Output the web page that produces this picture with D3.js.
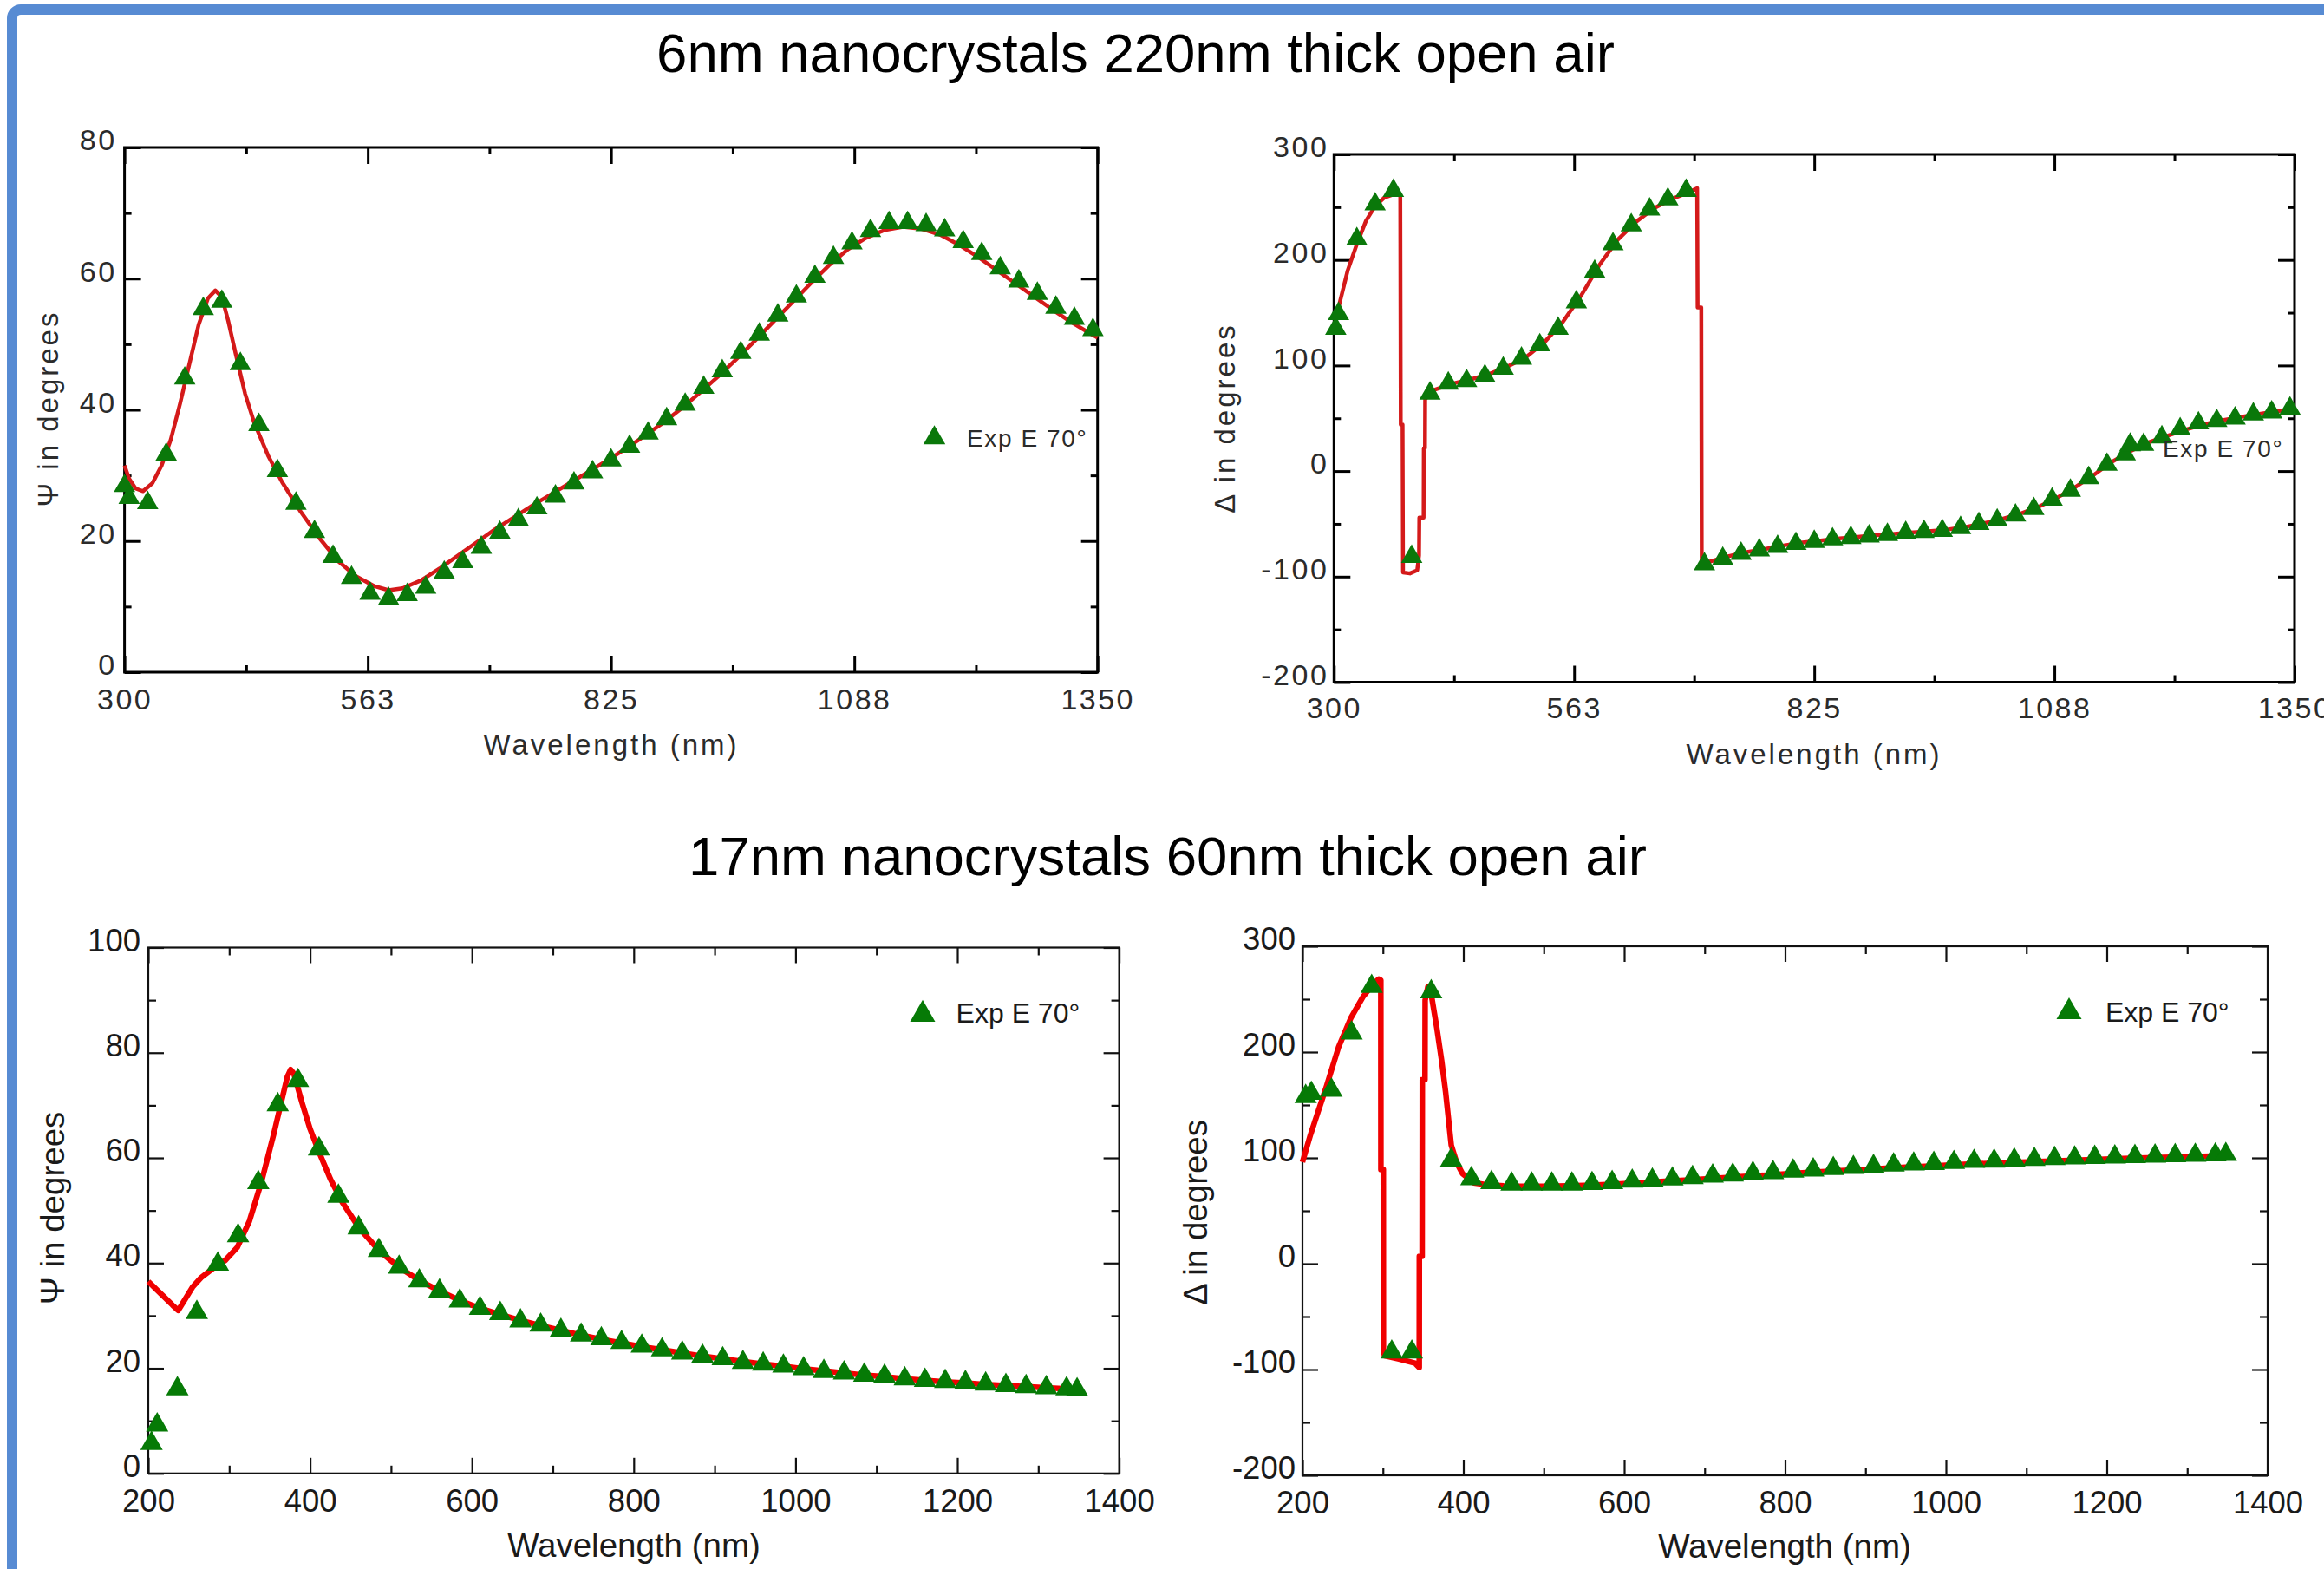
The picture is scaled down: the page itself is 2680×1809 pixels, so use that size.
<!DOCTYPE html>
<html>
<head>
<meta charset="utf-8" />
<title>Nanocrystal ellipsometry fits</title>
<style type="text/css">
    body {
        margin: 0;
        background-color: #fff;
    }
    svg {
        display: block;
        background-color: #fff;
        font-family: "Liberation Sans", Arial, sans-serif;
    }
    .title {
        font-size: 63.5px;
        fill: #000;
    }
</style>
<script type="text/javascript" src="https://cdnjs.cloudflare.com/ajax/libs/d3/7.8.5/d3.min.js"></script>
</head>
<body>
<svg id="chart" width="2680" height="1809"></svg>

<script type="text/javascript">
// ---- tick values / labels ----
var xTicks220 = [300, 562.5, 825, 1087.5, 1350];
var xTickLabels220 = ["300", "563", "825", "1088", "1350"];
var xMinor220 = [431.25, 693.75, 956.25, 1218.75];
var xTicks60 = [200, 400, 600, 800, 1000, 1200, 1400];
var xTickLabels60 = ["200", "400", "600", "800", "1000", "1200", "1400"];
var xMinor60 = [300, 500, 700, 900, 1100, 1300];
var psiTicks220 = [0, 20, 40, 60, 80];
var psiTickLabels220 = ["0", "20", "40", "60", "80"];
var psiMinor220 = [10, 30, 50, 70];
var psiTicks60 = [0, 20, 40, 60, 80, 100];
var psiTickLabels60 = ["0", "20", "40", "60", "80", "100"];
var psiMinor60 = [10, 30, 50, 70, 90];
var deltaTicks = [-200, -100, 0, 100, 200, 300];
var deltaTickLabels = ["-200", "-100", "0", "100", "200", "300"];
var deltaMinor = [-150, -50, 50, 150, 250];

// ---- 6nm / 220nm : Psi ----
var psi220Wl = [300, 305, 325, 345, 365, 385, 405, 425, 445, 465, 485, 505, 525, 545, 565, 585, 605, 625, 645, 665, 685,
    705, 725, 745, 765, 785, 805, 825, 845, 865, 885, 905, 925, 945, 965, 985, 1005, 1025, 1045, 1065, 1085,
    1105, 1125, 1145, 1165, 1185, 1205, 1225, 1245, 1265, 1285, 1305, 1325, 1345];
var psi220Exp = [28.4, 26.6, 25.8, 33.2, 44.8, 55.4, 56.5, 47.0, 37.7, 30.7, 25.7, 21.4, 17.6, 14.4, 12.0, 11.2, 11.8, 12.9, 15.2, 16.8, 19.0,
    21.3, 23.2, 25.0, 26.8, 28.8, 30.5, 32.3, 34.4, 36.4, 38.6, 40.8, 43.4, 45.9, 48.7, 51.5, 54.4, 57.3, 60.3, 63.2, 65.4,
    67.3, 68.5, 68.5, 68.2, 67.4, 65.6, 63.8, 61.6, 59.6, 57.7, 55.6, 53.9, 52.2];
var psi220FitWl = [300, 305, 312, 320, 330, 340, 350, 360, 370, 380, 390, 398, 405, 412, 420, 430, 440, 455, 470, 490,
    510, 530, 550, 570, 585, 600, 620, 640, 660, 680, 700, 720, 740, 760, 780, 800, 820, 840, 860, 880, 900,
    920, 940, 960, 980, 1000, 1020, 1040, 1060, 1080, 1100, 1120, 1140, 1160, 1180, 1200, 1220, 1240, 1260,
    1280, 1300, 1320, 1340, 1350];
var psi220Fit = [31.5, 29.5, 28.0, 27.6, 28.8, 31.5, 35.5, 41.0, 47.0, 53.0, 57.0, 58.2, 57.2, 53.5, 48.5, 42.5, 38.0, 33.0, 29.0, 24.5,
    20.5, 17.0, 14.6, 13.1, 12.5, 12.8, 14.0, 15.8, 17.8, 19.8, 21.8, 23.6, 25.4, 27.1, 28.8, 30.5, 32.2, 34.0, 35.9, 37.9, 40.1,
    42.5, 45.0, 47.7, 50.5, 53.4, 56.3, 59.2, 62.0, 64.4, 66.2, 67.4, 67.9, 67.6, 66.7, 65.2, 63.4, 61.4, 59.4,
    57.4, 55.4, 53.5, 51.8, 51.0];

// ---- 6nm / 220nm : Delta ----
var delta220Wl = [302, 305, 325, 345, 365, 385, 405, 425, 445, 465, 485, 505, 525, 545, 565, 585, 605, 625, 645, 665, 685,
    705, 725, 745, 765, 785, 805, 825, 845, 865, 885, 905, 925, 945, 965, 985, 1005, 1025, 1045, 1065, 1085,
    1105, 1125, 1145, 1165, 1185, 1205, 1225, 1245, 1265, 1285, 1305, 1325, 1345];
var delta220Exp = [135, 149, 219.8, 252.8, 265.6, -81.1, 73.6, 83.0, 85.4, 90.0, 97.2, 106.6, 119.3, 135, 160, 189, 215, 233, 248, 257.5, 265.6,
    -88.2, -83.0, -78.3, -75.0, -71.7, -68.9, -67.0, -64.6, -63.2, -61.8, -60.4, -58.5, -57.5, -56.6, -53.8, -50.0, -46.7, -42.0, -35.8, -26.9,
    -18.4, -6.6, 6.1, 16.0, 25.0, 32.0, 39.6, 45.3, 47.6, 50.0, 53.8, 55.7, 59.4];
var delta220FitWl = [300, 305, 315, 325, 335, 345, 355, 365, 370, 372.5, 373, 375, 375.5, 383, 391, 393, 393.3, 398, 398.2, 399.5, 399.7,
    405, 410, 430, 450, 470, 490, 510, 530, 550, 570, 590, 610, 630, 650, 670, 690, 697, 697.5, 701.5, 702,
    710, 730, 750, 770, 790, 810, 830, 850, 870, 890, 910, 930, 950, 970, 990, 1010, 1030, 1050, 1070, 1090,
    1110, 1130, 1150, 1170, 1190, 1210, 1230, 1250, 1270, 1290, 1310, 1330, 1350];
var delta220Fit = [135, 155, 190, 215, 237, 251, 259, 262, 262, 261, 44, 44, -96, -97, -94, -80, -44, -44, 21.7, 21.7, 68,
    74, 77, 83, 87, 92, 99, 108, 122, 141, 166, 195, 219, 236, 249, 258, 265, 268, 155, 155, -91,
    -86, -81, -77, -74, -70.7, -68, -66, -64, -62.5, -61, -59.7, -58.2, -57, -55.5, -53, -49.5, -45.5, -40.5, -34, -25.5,
    -15.5, -4, 8.5, 18.5, 27, 33, 39, 44, 48, 51, 54, 56.5, 59];

// ---- 17nm / 60nm : Psi ----
var psi60Wl = [204, 211, 236, 260, 286, 311, 336, 360, 385, 411, 435, 460, 485, 510, 535, 560, 585, 610, 635, 660, 685,
    710, 735, 760, 785, 810, 835, 860, 885, 910, 935, 960, 985, 1010, 1035, 1060, 1085, 1110, 1135, 1160, 1185,
    1210, 1235, 1260, 1285, 1310, 1335, 1348];
var psi60Exp = [5.7, 9.2, 16.1, 30.6, 39.8, 45.2, 55.3, 70.1, 74.7, 61.7, 52.7, 46.7, 42.4, 39.2, 36.6, 34.7, 32.8, 31.4, 30.4, 29.0, 28.2,
    27.2, 26.3, 25.6, 24.9, 24.2, 23.5, 22.9, 22.3, 21.8, 21.1, 20.8, 20.4, 19.9, 19.4, 19.1, 18.7, 18.5, 18.0, 17.7, 17.5,
    17.3, 17.0, 16.7, 16.5, 16.3, 16.1, 15.9];
var psi60FitWl = [200, 210, 220, 230, 237, 245, 255, 265, 280, 295, 310, 325, 340, 355, 365, 372, 376, 380, 390, 400, 410,
    425, 440, 460, 485, 510, 535, 560, 585, 610, 635, 660, 685, 710, 735, 760, 785, 810, 835, 860, 885, 910,
    935, 960, 985, 1010, 1035, 1060, 1085, 1110, 1135, 1160, 1185, 1210, 1235, 1260, 1285, 1310, 1335, 1350];
var psi60Fit = [36.5, 35.0, 33.5, 32.0, 31.0, 33.0, 35.5, 37.2, 39.0, 40.5, 43.0, 48.0, 55.5, 64.5, 71.0, 75.5, 76.8, 76.0, 70.5, 65.5, 61.5,
    56.0, 51.5, 46.8, 42.4, 39.2, 36.7, 34.7, 32.9, 31.4, 30.2, 29.1, 28.1, 27.2, 26.3, 25.5, 24.8, 24.1, 23.5, 22.9, 22.3, 21.8,
    21.3, 20.8, 20.4, 19.9, 19.5, 19.1, 18.7, 18.4, 18.0, 17.7, 17.4, 17.2, 16.9, 16.7, 16.5, 16.3, 16.1, 15.9];

// ---- 17nm / 60nm : Delta ----
var delta60Wl = [204, 211, 236, 261, 286, 311, 336, 360, 385, 410, 435, 460, 485, 510, 535, 560, 585, 610, 635, 660, 685,
    710, 735, 760, 785, 810, 835, 860, 885, 910, 935, 960, 985, 1010, 1035, 1060, 1085, 1110, 1135, 1160, 1185,
    1210, 1235, 1260, 1285, 1310, 1335, 1348];
var delta60Exp = [158, 161, 164, 218, 262, -83.5, -83.5, 257, 98, 80.4, 76.6, 75.2, 75.2, 75.2, 75.2, 75.7, 76.6, 78.0, 79.0, 80.0, 81.4,
    82.8, 83.7, 85.2, 86.1, 87.5, 88.5, 89.9, 90.9, 91.8, 93.3, 94.2, 94.7, 95.6, 96.6, 97.0, 98.0, 98.5, 99.4, 99.9, 100.4,
    100.8, 101.2, 101.6, 102.0, 102.4, 102.8, 103.2];
var delta60FitWl = [200, 210, 220, 230, 245, 260, 275, 290, 295, 297.4, 297.5, 300.5, 300.6, 302, 320, 340, 345, 345.2, 345.3, 348.8, 349,
    352.3, 352.5, 356, 360, 367, 373, 378, 385, 392, 399, 413, 430, 450, 470, 500, 530, 560, 590, 620, 650,
    680, 710, 740, 770, 800, 830, 860, 890, 920, 950, 980, 1010, 1040, 1070, 1100, 1130, 1160, 1190, 1220, 1250,
    1280, 1310, 1340, 1350];
var delta60Fit = [96, 122, 145, 168, 205, 232, 252, 266, 269, 268, 89, 89, -82, -87, -90, -94, -98, -98, 7, 7, 174,
    174, 249, 262, 255, 223, 192, 162, 112, 95, 85, 76.5, 74.5, 73.5, 73.2, 73.2, 73.5, 74.2, 75.3, 76.5, 77.8,
    79.2, 80.6, 82, 83.4, 84.8, 86.2, 87.5, 88.8, 90, 91.2, 92.3, 93.4, 94.4, 95.3, 96.2, 97, 97.8, 98.6, 99.3, 100,
    100.6, 101.2, 101.8, 102];

var legendLabel = "Exp E 70\u00B0";

// two looks: the top row is an older, letter-spaced export, the bottom row is plainer
var styles = {
    old: {
        axisWidth: 3, axisColor: "#000", majorLen: 19, minorLen: 8,
        tickFont: 34, tickSpacing: 2.5, tickColor: "#2b2b2b",
        titleFont: 33, titleSpacing: 3, titleColor: "#2b2b2b",
        legendFont: 28, legendSpacing: 1.6,
        red: "#d41a1a", lineWidth: 4.5, green: "#0a780a", marker: 265, legendMarker: 280
    },
    new: {
        axisWidth: 2.2, axisColor: "#111", majorLen: 18, minorLen: 9,
        tickFont: 36.5, tickSpacing: 0, tickColor: "#1a1a1a",
        titleFont: 38.5, titleSpacing: 0, titleColor: "#1a1a1a",
        legendFont: 32, legendSpacing: 0,
        red: "#f00000", lineWidth: 6.5, green: "#067a06", marker: 290, legendMarker: 364
    }
};

var panels = [
    {
        style: "old", left: 143.6, right: 1265.7, top: 170, bottom: 775,
        xDomain: [300, 1350], yDomain: [0, 80],
        xMajor: xTicks220, xLabels: xTickLabels220, xMinor: xMinor220,
        yMajor: psiTicks220, yLabels: psiTickLabels220, yMinor: psiMinor220,
        expX: psi220Wl, expY: psi220Exp, fitX: psi220FitWl, fitY: psi220Fit,
        xPad: 19, yPad: 9,
        yTitle: "\u03A8 in degrees", yTitleX: 66.5, yTitleY: 471,
        xTitleX: 705, xTitleY: 870,
        legX: 1077.5, legY: 505, legTextX: 1115, legTextY: 515
    },
    {
        style: "old", left: 1538.3, right: 2646, top: 178, bottom: 786.5,
        xDomain: [300, 1350], yDomain: [-200, 300],
        xMajor: xTicks220, xLabels: xTickLabels220, xMinor: xMinor220,
        yMajor: deltaTicks, yLabels: deltaTickLabels, yMinor: deltaMinor,
        expX: delta220Wl, expY: delta220Exp, fitX: delta220FitWl, fitY: delta220Fit,
        xPad: 17, yPad: 6,
        yTitle: "\u0394 in degrees", yTitleX: 1423.5, yTitleY: 482,
        xTitleX: 2092, xTitleY: 881,
        legX: 2456.5, legY: 513, legTextX: 2494, legTextY: 527
    },
    {
        style: "new", left: 171, right: 1290.6, top: 1092.5, bottom: 1698.8,
        xDomain: [200, 1400], yDomain: [0, 100],
        xMajor: xTicks60, xLabels: xTickLabels60, xMinor: xMinor60,
        yMajor: psiTicks60, yLabels: psiTickLabels60, yMinor: psiMinor60,
        expX: psi60Wl, expY: psi60Exp, fitX: psi60FitWl, fitY: psi60Fit,
        xPad: 18, yPad: 9,
        yTitle: "\u03A8 in degrees", yTitleX: 74, yTitleY: 1393,
        xTitleX: 731, xTitleY: 1795,
        legX: 1064, legY: 1169.6, legTextX: 1102.6, legTextY: 1179.4
    },
    {
        style: "new", left: 1502, right: 2615, top: 1091, bottom: 1701,
        xDomain: [200, 1400], yDomain: [-200, 300],
        xMajor: xTicks60, xLabels: xTickLabels60, xMinor: xMinor60,
        yMajor: deltaTicks, yLabels: deltaTickLabels, yMinor: deltaMinor,
        expX: delta60Wl, expY: delta60Exp, fitX: delta60FitWl, fitY: delta60Fit,
        xPad: 18, yPad: 8,
        yTitle: "\u0394 in degrees", yTitleX: 1392, yTitleY: 1398,
        xTitleX: 2058, xTitleY: 1796,
        legX: 2386, legY: 1166.7, legTextX: 2428, legTextY: 1178
    }
];

var svg = d3.select("#chart");

// slide frame (right and bottom edges run off the picture)
svg.append("rect")
    .attr("x", 14)
    .attr("y", 11)
    .attr("width", 2720)
    .attr("height", 1860)
    .attr("rx", 10)
    .attr("fill", "none")
    .attr("stroke", "#578bd3")
    .attr("stroke-width", 12);

svg.append("text")
    .attr("class", "title")
    .attr("x", 1309.5)
    .attr("y", 83)
    .attr("text-anchor", "middle")
    .text("6nm nanocrystals 220nm thick open air");

svg.append("text")
    .attr("class", "title")
    .attr("x", 1346.5)
    .attr("y", 1009)
    .attr("text-anchor", "middle")
    .text("17nm nanocrystals 60nm thick open air");

panels.forEach(drawPanel);

function drawPanel(p) {
    var s = styles[p.style];
    var g = svg.append("g");

    var xScale = d3.scaleLinear().domain(p.xDomain).range([p.left, p.right]);
    var yScale = d3.scaleLinear().domain(p.yDomain).range([p.bottom, p.top]);

    var sides = [
        { make: function () { return d3.axisBottom(xScale); }, t: "translate(0," + p.bottom + ")", major: p.xMajor, minor: p.xMinor, labels: p.xLabels, pad: p.xPad },
        { make: function () { return d3.axisTop(xScale); }, t: "translate(0," + p.top + ")", major: p.xMajor, minor: p.xMinor },
        { make: function () { return d3.axisLeft(yScale); }, t: "translate(" + p.left + ",0)", major: p.yMajor, minor: p.yMinor, labels: p.yLabels, pad: p.yPad },
        { make: function () { return d3.axisRight(yScale); }, t: "translate(" + p.right + ",0)", major: p.yMajor, minor: p.yMinor }
    ];

    sides.forEach(function (side, k) {
        // minor ticks, pointing inward
        g.append("g")
            .attr("transform", side.t)
            .call(side.make().tickValues(side.minor).tickSize(-s.minorLen).tickFormat(""))
            .call(styleAxis);

        var labels = side.labels;
        var major = side.make()
            .tickValues(side.major)
            .tickSize(-s.majorLen)
            .tickPadding(side.pad || 0)
            .tickFormat(function (d, i) { return labels ? labels[i] : ""; });

        var ag = g.append("g")
            .attr("transform", side.t)
            .call(major)
            .call(styleAxis);

        ag.attr("font-family", null).attr("font-size", s.tickFont);
        ag.selectAll("text")
            .attr("fill", s.tickColor)
            .style("letter-spacing", s.tickSpacing + "px");
        if (k === 2) {
            // value labels sit a little above their ticks
            ag.selectAll("text").attr("y", -8);
        }
    });

    function styleAxis(sel) {
        sel.select(".domain").remove();
        sel.selectAll(".tick line")
            .attr("stroke", s.axisColor)
            .attr("stroke-width", s.axisWidth);
    }

    g.append("rect")
        .attr("x", p.left)
        .attr("y", p.top)
        .attr("width", p.right - p.left)
        .attr("height", p.bottom - p.top)
        .attr("fill", "none")
        .attr("stroke", s.axisColor)
        .attr("stroke-width", s.axisWidth);

    // model fit
    var line = d3.line()
        .x(function (d) { return xScale(d[0]); })
        .y(function (d) { return yScale(d[1]); });

    g.append("path")
        .datum(d3.zip(p.fitX, p.fitY))
        .attr("d", line)
        .attr("fill", "none")
        .attr("stroke", s.red)
        .attr("stroke-width", s.lineWidth)
        .attr("stroke-linejoin", "round");

    // experimental points
    var tri = d3.symbol().type(d3.symbolTriangle).size(s.marker);
    g.selectAll(".exp")
        .data(d3.zip(p.expX, p.expY))
        .enter()
        .append("path")
        .attr("class", "exp")
        .attr("d", tri)
        .attr("transform", function (d) {
            return "translate(" + xScale(d[0]) + "," + yScale(d[1]) + ")";
        })
        .attr("fill", s.green);

    // legend
    g.append("path")
        .attr("d", d3.symbol().type(d3.symbolTriangle).size(s.legendMarker))
        .attr("transform", "translate(" + p.legX + "," + p.legY + ")")
        .attr("fill", s.green);

    g.append("text")
        .attr("x", p.legTextX)
        .attr("y", p.legTextY)
        .attr("font-size", s.legendFont)
        .attr("fill", s.tickColor)
        .style("letter-spacing", s.legendSpacing + "px")
        .text(legendLabel);

    // axis titles
    g.append("text")
        .attr("transform", "translate(" + p.yTitleX + "," + p.yTitleY + ") rotate(-90)")
        .attr("text-anchor", "middle")
        .attr("font-size", s.titleFont)
        .attr("fill", s.titleColor)
        .style("letter-spacing", s.titleSpacing + "px")
        .text(p.yTitle);

    g.append("text")
        .attr("x", p.xTitleX)
        .attr("y", p.xTitleY)
        .attr("text-anchor", "middle")
        .attr("font-size", s.titleFont)
        .attr("fill", s.titleColor)
        .style("letter-spacing", s.titleSpacing + "px")
        .text("Wavelength (nm)");
}
</script>
</body>
</html>
